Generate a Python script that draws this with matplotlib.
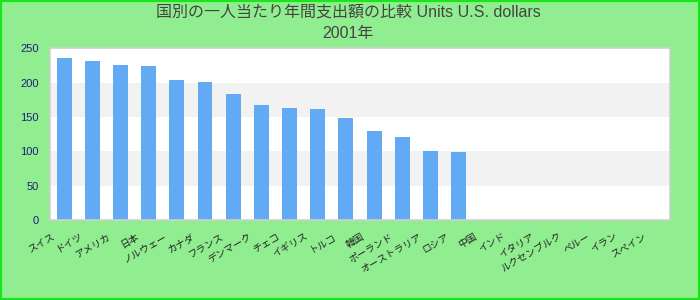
import numpy as np
import matplotlib
matplotlib.use("Agg")
import matplotlib.pyplot as plt
import matplotlib.transforms as mtransforms
from matplotlib.patches import Rectangle

# data (its labels show as empty boxes, so the names are guesses)
title_line1 = "国別の一人当たり年間支出額の比較 Units U.S. dollars"
title_line2 = "2001年"
categories = ["スイス", "ドイツ", "アメリカ", "日本", "ノルウェー", "カナダ", "フランス",
              "デンマーク", "チェコ", "イギリス", "トルコ", "韓国", "ポーランド", "オーストラリア",
              "ロシア", "中国", "インド", "イタリア", "ルクセンブルク", "ペルー", "イラン", "スペイン"]
values = [236, 231.5, 225.5, 224, 204, 201, 183.5, 167.5, 163, 161.5, 148.5, 129.5, 121, 100.5, 99,
          np.nan, np.nan, np.nan, np.nan, np.nan, np.nan, np.nan]
yticks = [0, 50, 100, 150, 200, 250]

fonts = ["Liberation Sans", "Noto Sans CJK JP"]
bg = "#90ee90"
bar_color = "#63aaf5"
band_color = "#f2f2f2"
tick_color = "#1f1f7a"

fig = plt.figure(figsize=(7, 3), dpi=100, facecolor=bg)
ax = fig.add_axes([50 / 700, 80 / 300, 620 / 700, 171.7 / 300])
ax.set_facecolor("white")

x = np.arange(len(categories))
for lo in [50, 150]:
    ax.axhspan(lo, lo + 50, color=band_color, lw=0, zorder=0)
ax.bar(x, values, width=0.53, color=bar_color, zorder=2)

ax.set_xlim(-0.5, len(categories) - 0.5)
ax.set_ylim(0, 250)
ax.set_yticks(yticks)
ax.set_yticklabels([str(v) for v in yticks], fontsize=8, color=tick_color, family=fonts)
ax.tick_params(axis="y", length=0, pad=8)
ax.set_xticks(x)
ax.set_xticklabels(categories, rotation=30, ha="right", fontsize=7, family=fonts,
                   color="#222222")
ax.tick_params(axis="x", length=0, pad=8)
shift = mtransforms.ScaledTranslation(-8 / 100, 0, fig.dpi_scale_trans)
for lab in ax.get_xticklabels():
    lab.set_transform(lab.get_transform() + shift)

for s in ax.spines.values():
    s.set_color("#d0d0d0")
    s.set_linewidth(1.2)

# two title lines placed on their baselines
fig.text(0.497, 1 - 17 / 300, title_line1, ha="center", va="baseline", fontsize=11.5,
         color="#444444", family=fonts)
fig.text(0.497, 1 - 38 / 300, title_line2, ha="center", va="baseline", fontsize=11.5,
         color="#444444", family=fonts)

# green frame round the whole picture
fig.patches.append(Rectangle((0, 0), 1, 1, transform=fig.transFigure, fill=False,
                             edgecolor="#19e619", linewidth=3, zorder=10))

fig.savefig("out.png", dpi=100, facecolor=bg)
